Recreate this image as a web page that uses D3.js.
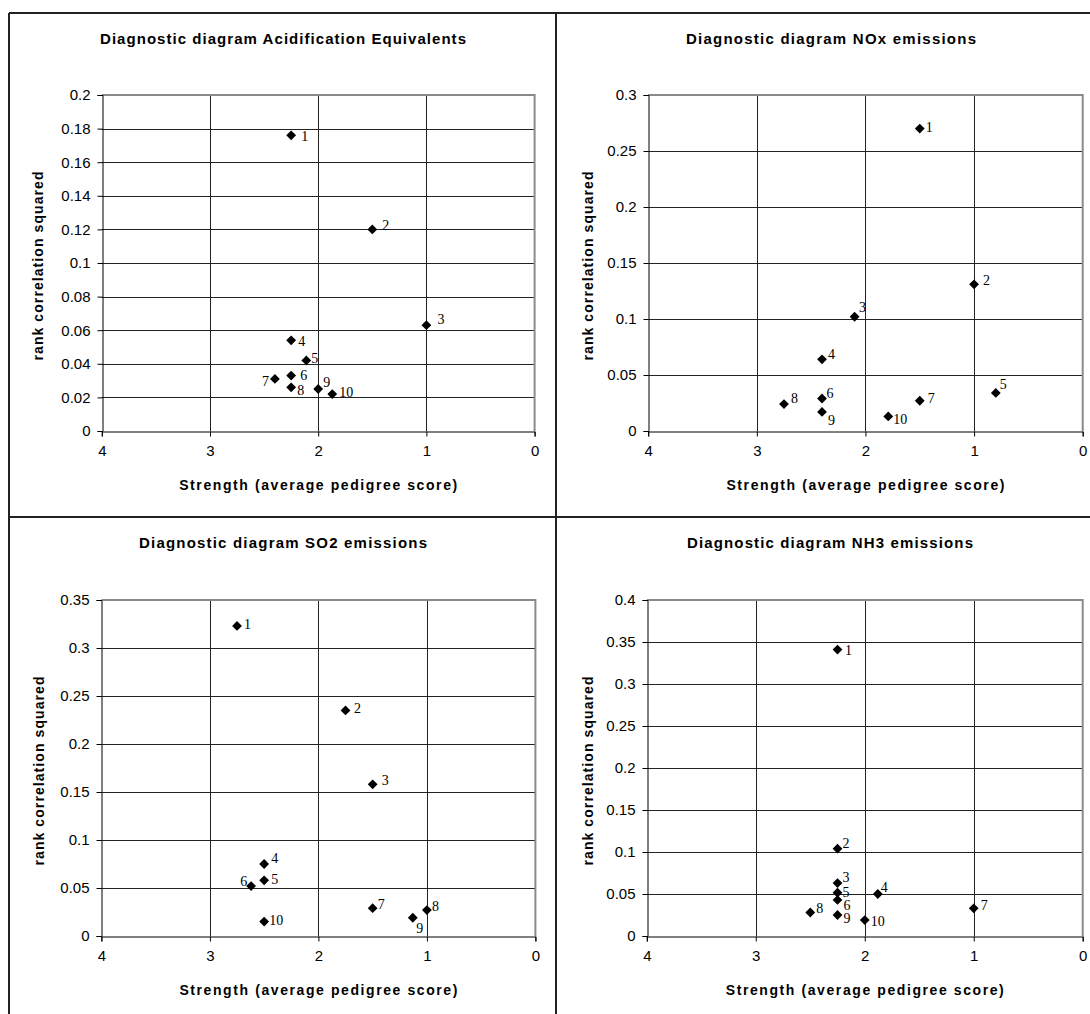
<!DOCTYPE html>
<html>
<head>
<meta charset="utf-8">
<script src="https://cdn.jsdelivr.net/npm/d3@7"></script>
<style>
  html, body { margin: 0; padding: 0; background: #fff; }
  svg { display: block; }
</style>
</head>
<body>
<svg id="chart" width="1090" height="1014"></svg>
<script>
// ---------------- DATA ----------------
const pointIds = ["1","2","3","4","5","6","7","8","9","10"];
const xTicks = [4, 3, 2, 1, 0];

const titleAE = "Diagnostic diagram Acidification Equivalents";
const strengthAE = [2.25, 1.5, 1.0, 2.25, 2.11, 2.25, 2.40, 2.25, 2.0, 1.87];
const r2AE       = [0.176, 0.120, 0.063, 0.054, 0.042, 0.033, 0.031, 0.026, 0.025, 0.022];
const yTicksAE   = [0, 0.02, 0.04, 0.06, 0.08, 0.1, 0.12, 0.14, 0.16, 0.18, 0.2];

const titleNOx = "Diagnostic diagram NOx emissions";
const strengthNOx = [1.5, 1.0, 2.1, 2.4, 0.8, 2.4, 1.5, 2.75, 2.4, 1.79];
const r2NOx       = [0.270, 0.131, 0.102, 0.064, 0.034, 0.029, 0.027, 0.024, 0.017, 0.013];
const yTicksNOx   = [0, 0.05, 0.1, 0.15, 0.2, 0.25, 0.3];

const titleSO2 = "Diagnostic diagram SO2 emissions";
const strengthSO2 = [2.75, 1.75, 1.5, 2.5, 2.5, 2.62, 1.5, 1.0, 1.13, 2.5];
const r2SO2       = [0.323, 0.235, 0.158, 0.075, 0.058, 0.052, 0.029, 0.027, 0.019, 0.015];
const yTicksSO2   = [0, 0.05, 0.1, 0.15, 0.2, 0.25, 0.3, 0.35];

const titleNH3 = "Diagnostic diagram NH3 emissions";
const strengthNH3 = [2.25, 2.25, 2.25, 1.88, 2.25, 2.25, 1.0, 2.5, 2.25, 2.0];
const r2NH3       = [0.341, 0.104, 0.063, 0.050, 0.0515, 0.043, 0.033, 0.028, 0.025, 0.019];
const yTicksNH3   = [0, 0.05, 0.1, 0.15, 0.2, 0.25, 0.3, 0.35, 0.4];

const xAxisTitle = "Strength (average pedigree score)";
const yAxisTitle = "rank correlation squared";

// ---------------- LAYOUT (positions / styles) ----------------
// label offsets [dx, dy] from the marker centre; negative dx = label to the left
const labelOffAE  = [[10,1],[10,-4],[11,-6],[7,1],[5,-2],[9,0],[-6,2],[6,3],[5,-7],[7,-2]];
const labelOffNOx = [[6,-2],[9,-4],[4.5,-10],[6,-5],[4,-9],[4.5,-5],[8,-3],[7,-6],[6,8],[5,3]];
const labelOffSO2 = [[7,-2],[8.5,-2],[9,-4],[7,-6],[7,-1],[-4,-5],[5,-4],[5,-4],[3.5,10],[5,-2]];
const labelOffNH3 = [[7.5,1],[5,-6],[5,-6],[3,-7],[5,-1],[6,5],[7,-3],[6,-4],[6,3],[6,1]];

const panels = [
  { title: titleAE,  xs: strengthAE,  ys: r2AE,  yTicks: yTicksAE,  off: labelOffAE,
    plot: {x0: 101.8, x1: 534.6, y0: 95,  y1: 431}, titlePos: [283, 39],  titleW: 366, yTitleX: 38,  xTitleY: 485 },
  { title: titleNOx, xs: strengthNOx, ys: r2NOx, yTicks: yTicksNOx, off: labelOffNOx,
    plot: {x0: 648.2, x1: 1082.7, y0: 95, y1: 431}, titlePos: [831, 39], titleW: 290, yTitleX: 588, xTitleY: 485 },
  { title: titleSO2, xs: strengthSO2, ys: r2SO2, yTicks: yTicksSO2, off: labelOffSO2,
    plot: {x0: 101.4, x1: 535.4, y0: 600, y1: 936}, titlePos: [283, 543], titleW: 288, yTitleX: 39, xTitleY: 990 },
  { title: titleNH3, xs: strengthNH3, ys: r2NH3, yTicks: yTicksNH3, off: labelOffNH3,
    plot: {x0: 646.8, x1: 1082.7, y0: 600, y1: 936}, titlePos: [830, 543], titleW: 286, yTitleX: 588, xTitleY: 990 }
];

const SANS = "'Liberation Sans', Arial, sans-serif";
const SERIF = "'Liberation Serif', 'Times New Roman', serif";

const svg = d3.select("#chart");
svg.append("rect").attr("width", 1090).attr("height", 1014).attr("fill", "#fff");

panels.forEach(p => {
  const g = svg.append("g");
  const x = d3.scaleLinear().domain([4, 0]).range([p.plot.x0, p.plot.x1]);
  const yMax = p.yTicks[p.yTicks.length - 1];
  const y = d3.scaleLinear().domain([0, yMax]).range([p.plot.y1, p.plot.y0]);

  // gridlines
  g.append("g").selectAll("line.h").data(p.yTicks.filter(v => v > 0 && v < yMax)).join("line")
    .attr("x1", p.plot.x0).attr("x2", p.plot.x1)
    .attr("y1", d => Math.round(y(d)) + 0.5).attr("y2", d => Math.round(y(d)) + 0.5)
    .attr("stroke", "#222").attr("stroke-width", 1);
  g.append("g").selectAll("line.v").data(xTicks.filter(v => v > 0 && v < 4)).join("line")
    .attr("y1", p.plot.y0).attr("y2", p.plot.y1)
    .attr("x1", d => Math.round(x(d)) + 0.5).attr("x2", d => Math.round(x(d)) + 0.5)
    .attr("stroke", "#222").attr("stroke-width", 1);

  // plot border top/right (grey)
  g.append("path")
    .attr("d", `M${p.plot.x0},${p.plot.y0}H${p.plot.x1}V${p.plot.y1}`)
    .attr("fill", "none").attr("stroke", "#8a8a8a").attr("stroke-width", 2);

  // axes
  const yAxis = d3.axisLeft(y).tickValues(p.yTicks).tickSize(5).tickPadding(7)
    .tickFormat(d => String(d));
  const ya = g.append("g").attr("transform", `translate(${Math.round(p.plot.x0) + 0.5},0)`).call(yAxis);
  const xAxis = d3.axisBottom(x).tickValues(xTicks).tickSize(5).tickPadding(9)
    .tickFormat(d => String(d));
  const xa = g.append("g").attr("transform", `translate(0,${Math.round(p.plot.y1) + 0.5})`).call(xAxis);
  [ya, xa].forEach(a => {
    a.select(".domain").attr("stroke", "#000").attr("stroke-width", 1);
    a.selectAll(".tick line").attr("stroke", "#000");
    a.selectAll(".tick text").attr("fill", "#000")
      .style("font-family", SANS).style("font-size", "15px");
  });

  // titles
  g.append("text").text(p.title)
    .attr("x", p.titlePos[0]).attr("y", p.titlePos[1]).attr("dy", "0.35em")
    .attr("text-anchor", "middle")
    .attr("textLength", p.titleW).attr("lengthAdjust", "spacing")
    .style("font-family", SANS).style("font-weight", "bold").style("font-size", "15px");

  g.append("text").text(xAxisTitle)
    .attr("x", (p.plot.x0 + p.plot.x1) / 2).attr("y", p.xTitleY).attr("dy", "0.35em")
    .attr("text-anchor", "middle")
    .attr("textLength", 278).attr("lengthAdjust", "spacing")
    .style("font-family", SANS).style("font-weight", "bold").style("font-size", "14px");

  const yc = (p.plot.y0 + p.plot.y1) / 2 + 3;
  g.append("text").text(yAxisTitle)
    .attr("transform", `translate(${p.yTitleX},${yc}) rotate(-90)`)
    .attr("dy", "0.35em").attr("text-anchor", "middle")
    .attr("textLength", 189).attr("lengthAdjust", "spacing")
    .style("font-family", SANS).style("font-weight", "bold").style("font-size", "14px");

  // points
  const pts = pointIds.map((id, i) => ({ id, sx: p.xs[i], sy: p.ys[i], off: p.off[i] }));
  g.append("g").selectAll("path").data(pts).join("path")
    .attr("d", d3.symbol().type(d3.symbolSquare).size(48)())
    .attr("transform", d => `translate(${x(d.sx)},${y(d.sy)}) rotate(45)`)
    .attr("fill", "#000");
  g.append("g").selectAll("text").data(pts).join("text")
    .text(d => d.id)
    .attr("x", d => x(d.sx) + d.off[0])
    .attr("y", d => y(d.sy) + d.off[1])
    .attr("dy", "0.35em")
    .attr("text-anchor", d => d.off[0] < 0 ? "end" : "start")
    .style("font-family", SERIF).style("font-size", "14px").attr("fill", "#000");
});

// frame lines
const frame = svg.append("g").attr("stroke", "#222").attr("stroke-width", 2).attr("fill", "none");
frame.append("line").attr("x1", 9).attr("x2", 1090).attr("y1", 13).attr("y2", 13);
frame.append("line").attr("x1", 9).attr("x2", 9).attr("y1", 13).attr("y2", 1014);
frame.append("line").attr("x1", 556).attr("x2", 556).attr("y1", 13).attr("y2", 1014);
frame.append("line").attr("x1", 9).attr("x2", 1090).attr("y1", 517).attr("y2", 517);
</script>
</body>
</html>
